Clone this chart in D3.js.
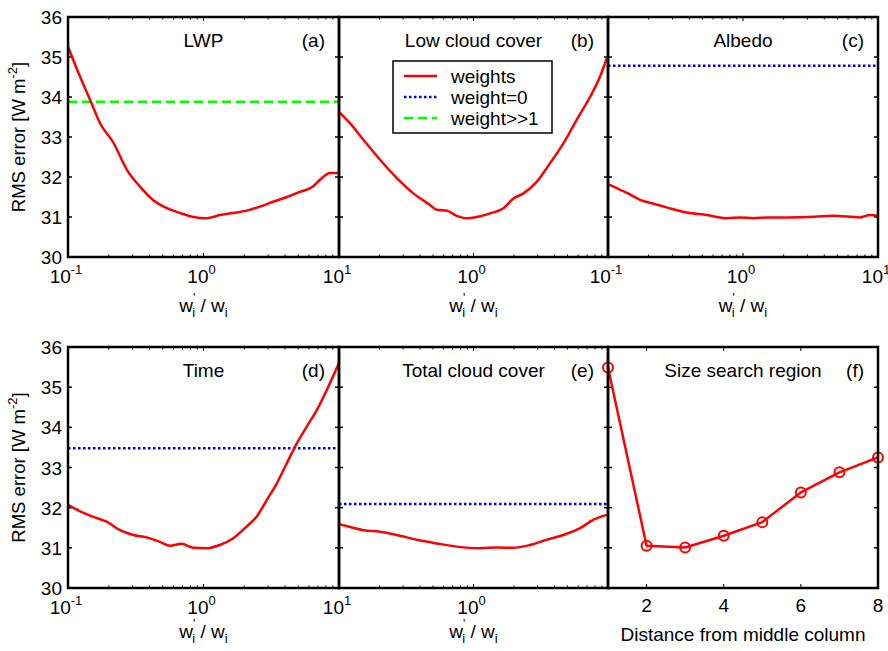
<!DOCTYPE html>
<html>
<head>
<meta charset="utf-8">
<script src="https://cdn.jsdelivr.net/npm/d3@7/dist/d3.min.js"></script>
<style>
  body { margin: 0; background: #fff; }
  svg text { font-family: "Liberation Sans", Arial, sans-serif; fill: #000; }
</style>
</head>
<body>
<svg id="chart"></svg>
<script>
var width = 888;
var height = 651;

// panel (a) LWP
var lwpX = [0.1, 0.123, 0.146, 0.172, 0.217, 0.272, 0.34, 0.426, 0.537, 0.672, 0.841, 1.06, 1.32, 1.65, 2.09, 2.61, 3.26, 4.13, 5.15, 6.43, 7.24, 8.6, 10];
var lwpY = [35.26, 34.5, 33.92, 33.35, 32.85, 32.18, 31.76, 31.42, 31.22, 31.1, 31.0, 30.97, 31.05, 31.1, 31.16, 31.26, 31.38, 31.5, 31.63, 31.76, 31.93, 32.1, 32.1];
// panel (b) low cloud cover
var lowX = [0.1, 0.121, 0.152, 0.202, 0.269, 0.357, 0.475, 0.532, 0.63, 0.75, 0.89, 1.06, 1.33, 1.67, 1.98, 2.35, 2.95, 3.7, 4.66, 5.85, 7.35, 8.7, 9.8];
var lowY = [33.63, 33.34, 32.93, 32.43, 31.97, 31.59, 31.3, 31.18, 31.16, 31.03, 30.97, 31.0, 31.09, 31.22, 31.46, 31.59, 31.88, 32.34, 32.84, 33.43, 34.0, 34.5, 34.97];
// panel (c) albedo
var albX = [0.1, 0.123, 0.137, 0.173, 0.217, 0.272, 0.383, 0.54, 0.757, 0.95, 1.19, 1.5, 2.1, 2.96, 4.67, 7.36, 8.7, 10];
var albY = [31.82, 31.68, 31.61, 31.43, 31.33, 31.24, 31.11, 31.05, 30.97, 30.99, 30.97, 30.99, 30.99, 31.0, 31.03, 30.99, 31.05, 31.03];
// panel (d) time
var timeX = [0.1, 0.123, 0.154, 0.193, 0.242, 0.303, 0.38, 0.477, 0.566, 0.69, 0.84, 1.06, 1.32, 1.66, 2.08, 2.47, 2.93, 3.47, 4.11, 4.88, 5.78, 6.86, 8.13, 10];
var timeY = [32.07, 31.91, 31.77, 31.65, 31.44, 31.32, 31.26, 31.15, 31.05, 31.1, 31.0, 30.99, 31.07, 31.24, 31.53, 31.78, 32.19, 32.6, 33.1, 33.6, 34.02, 34.43, 34.93, 35.6];
// panel (e) total cloud cover
var totX = [0.1, 0.121, 0.152, 0.202, 0.269, 0.38, 0.532, 0.75, 1.12, 1.49, 1.98, 2.63, 3.5, 4.66, 6.2, 7.8, 9.8];
var totY = [31.59, 31.52, 31.44, 31.4, 31.32, 31.2, 31.11, 31.03, 30.99, 31.01, 31.0, 31.07, 31.2, 31.32, 31.49, 31.7, 31.82];
// panel (f) size search region
var sizeX = [1, 2, 3, 4, 5, 6, 7, 8];
var sizeY = [35.49, 31.05, 31.01, 31.3, 31.64, 32.38, 32.88, 33.25];

// reference lines
var lwpBig = 33.88;      // weight>>1
var albZero = 34.78;     // weight=0
var timeZero = 33.48;
var totZero = 32.09;

var yTicks = [30, 31, 32, 33, 34, 35, 36];
var logMajor = [0.1, 1, 10];
var logMinor = [0.2, 0.3, 0.4, 0.5, 0.6, 0.7, 0.8, 0.9, 2, 3, 4, 5, 6, 7, 8, 9];
var sizeTicks = [2, 4, 6, 8];

var legendNames = ["weights", "weight=0", "weight>>1"];

var svg = d3.select("#chart")
    .attr("width", width)
    .attr("height", height);

var rows = [[17, 257], [347, 588]];
var cols = [[68, 339], [339, 608], [608, 878]];

var panels = [
  { row: 0, col: 0, title: "LWP", tag: "(a)", x: lwpX, y: lwpY, green: lwpBig, labels: [0.1, 1, 10], yaxis: true },
  { row: 0, col: 1, title: "Low cloud cover", tag: "(b)", x: lowX, y: lowY, labels: [1], legend: true },
  { row: 0, col: 2, title: "Albedo", tag: "(c)", x: albX, y: albY, blue: albZero, labels: [0.1, 1, 10] },
  { row: 1, col: 0, title: "Time", tag: "(d)", x: timeX, y: timeY, blue: timeZero, labels: [0.1, 1, 10], yaxis: true },
  { row: 1, col: 1, title: "Total cloud cover", tag: "(e)", x: totX, y: totY, blue: totZero, labels: [1] },
  { row: 1, col: 2, title: "Size search region", tag: "(f)", x: sizeX, y: sizeY, linear: true }
];

var fs = 19;
var sup = 13;

panels.forEach(function(p) {
  var x0 = cols[p.col][0], x1 = cols[p.col][1];
  var yTop = rows[p.row][0], yBot = rows[p.row][1];

  var x = p.linear
    ? d3.scaleLinear().domain([1, 8]).range([x0, x1])
    : d3.scaleLog().domain([0.1, 10]).range([x0, x1]);
  var y = d3.scaleLinear().domain([30, 36]).range([yBot, yTop]);

  var g = svg.append("g");

  // ticks inside the box
  var bottomMajor = p.linear ? sizeTicks : logMajor;
  g.selectAll(".tb").data(bottomMajor).enter().append("line")
      .attr("x1", function(d) { return x(d); }).attr("x2", function(d) { return x(d); })
      .attr("y1", yBot).attr("y2", yBot - 4)
      .attr("stroke", "#000").attr("stroke-width", 1);
  g.selectAll(".tt").data(bottomMajor).enter().append("line")
      .attr("x1", function(d) { return x(d); }).attr("x2", function(d) { return x(d); })
      .attr("y1", yTop).attr("y2", yTop + 4)
      .attr("stroke", "#000").attr("stroke-width", 1);
  if (!p.linear) {
    g.selectAll(".mb").data(logMinor).enter().append("line")
        .attr("x1", function(d) { return x(d); }).attr("x2", function(d) { return x(d); })
        .attr("y1", yBot).attr("y2", yBot - 2.5)
        .attr("stroke", "#000").attr("stroke-width", 1);
    g.selectAll(".mt").data(logMinor).enter().append("line")
        .attr("x1", function(d) { return x(d); }).attr("x2", function(d) { return x(d); })
        .attr("y1", yTop).attr("y2", yTop + 2.5)
        .attr("stroke", "#000").attr("stroke-width", 1);
  }
  g.selectAll(".yl").data(yTicks).enter().append("line")
      .attr("x1", x0).attr("x2", x0 + 4)
      .attr("y1", function(d) { return y(d); }).attr("y2", function(d) { return y(d); })
      .attr("stroke", "#000").attr("stroke-width", 1.5);
  g.selectAll(".yr").data(yTicks).enter().append("line")
      .attr("x1", x1).attr("x2", x1 - 4)
      .attr("y1", function(d) { return y(d); }).attr("y2", function(d) { return y(d); })
      .attr("stroke", "#000").attr("stroke-width", 1.5);

  // reference lines
  if (p.blue !== undefined) {
    g.append("line")
        .attr("x1", x0).attr("x2", x1)
        .attr("y1", y(p.blue)).attr("y2", y(p.blue))
        .attr("stroke", "#0000ff").attr("stroke-width", 2.5)
        .attr("stroke-dasharray", "2.5,2.5");
  }
  if (p.green !== undefined) {
    g.append("line")
        .attr("x1", x0).attr("x2", x1)
        .attr("y1", y(p.green)).attr("y2", y(p.green))
        .attr("stroke", "#00ff00").attr("stroke-width", 2.5)
        .attr("stroke-dasharray", "9,5");
  }

  // main curve
  var line = d3.line()
      .x(function(d, i) { return x(p.x[i]); })
      .y(function(d) { return y(d); });
  if (!p.linear) line.curve(d3.curveMonotoneX);
  g.append("path")
      .attr("d", line(p.y))
      .attr("fill", "none")
      .attr("stroke", "#ff0000")
      .attr("stroke-width", 2.5)
      .attr("stroke-linejoin", "round");

  if (p.linear) {
    g.selectAll(".pt").data(p.y).enter().append("circle")
        .attr("cx", function(d, i) { return x(p.x[i]); })
        .attr("cy", function(d) { return y(d); })
        .attr("r", 5)
        .attr("fill", "none")
        .attr("stroke", "#ff0000")
        .attr("stroke-width", 2);
  }

  // box
  g.append("rect")
      .attr("x", x0).attr("y", yTop)
      .attr("width", x1 - x0).attr("height", yBot - yTop)
      .attr("fill", "none").attr("stroke", "#000").attr("stroke-width", 2.5);

  // titles
  g.append("text")
      .attr("x", (x0 + x1) / 2).attr("y", yTop + 30)
      .attr("text-anchor", "middle").attr("font-size", fs)
      .text(p.title);
  g.append("text")
      .attr("x", x1 - 14).attr("y", yTop + 30)
      .attr("text-anchor", "end").attr("font-size", fs)
      .text(p.tag);

  // x tick labels
  if (p.linear) {
    g.selectAll(".xl").data(sizeTicks).enter().append("text")
        .attr("x", function(d) { return x(d); })
        .attr("y", yBot + 24)
        .attr("text-anchor", "middle").attr("font-size", fs)
        .text(function(d) { return d; });
    g.append("text")
        .attr("x", (x0 + x1) / 2).attr("y", yBot + 53)
        .attr("text-anchor", "middle").attr("font-size", fs)
        .text("Distance from middle column");
  } else {
    p.labels.forEach(function(d) {
      var t = g.append("text")
          .attr("x", x(d) - 2).attr("y", yBot + 26)
          .attr("text-anchor", "middle").attr("font-size", fs);
      t.append("tspan").text("10");
      t.append("tspan").attr("dy", -9).attr("font-size", sup).text(Math.round(Math.log10(d)));
    });
    var xl = g.append("text")
        .attr("x", (x0 + x1) / 2).attr("y", yBot + (p.row ? 50 : 55))
        .attr("text-anchor", "middle").attr("font-size", fs);
    xl.append("tspan").text("w");
    xl.append("tspan").attr("dy", -10).attr("font-size", 12).text("'");
    xl.append("tspan").attr("dx", -3).attr("dy", 15).attr("font-size", sup).text("i");
    xl.append("tspan").attr("dy", -5).text(" / w");
    xl.append("tspan").attr("dy", 5).attr("font-size", sup).text("i");
  }

  // y axis labels
  if (p.yaxis) {
    g.selectAll(".ylab").data(yTicks).enter().append("text")
        .attr("x", x0 - 6)
        .attr("y", function(d) { return y(d) + 7; })
        .attr("text-anchor", "end").attr("font-size", fs)
        .text(function(d) { return d; });
    var yl = g.append("text")
        .attr("transform", "translate(" + 25 + "," + ((yTop + yBot) / 2) + ") rotate(-90)")
        .attr("text-anchor", "middle").attr("font-size", 18.5);
    yl.append("tspan").text("RMS error [W  m");
    yl.append("tspan").attr("dy", -8).attr("font-size", sup).text("-2");
    yl.append("tspan").attr("dy", 8).text("]");
  }

  // legend
  if (p.legend) {
    var lg = g.append("g");
    lg.append("rect")
        .attr("x", 393).attr("y", 61).attr("width", 159).attr("height", 72)
        .attr("fill", "#fff").attr("stroke", "#000").attr("stroke-width", 1.5);
    var styles = [
      { c: "#ff0000", dash: null },
      { c: "#0000ff", dash: "2.5,2.5" },
      { c: "#00ff00", dash: "9,5" }
    ];
    legendNames.forEach(function(name, i) {
      var ly = 76 + i * 21;
      lg.append("line")
          .attr("x1", 404).attr("x2", 437)
          .attr("y1", ly).attr("y2", ly)
          .attr("stroke", styles[i].c).attr("stroke-width", 2.5)
          .attr("stroke-dasharray", styles[i].dash);
      lg.append("text")
          .attr("x", 451).attr("y", ly + 7)
          .attr("font-size", fs)
          .text(name);
    });
  }
});
</script>
</body>
</html>
